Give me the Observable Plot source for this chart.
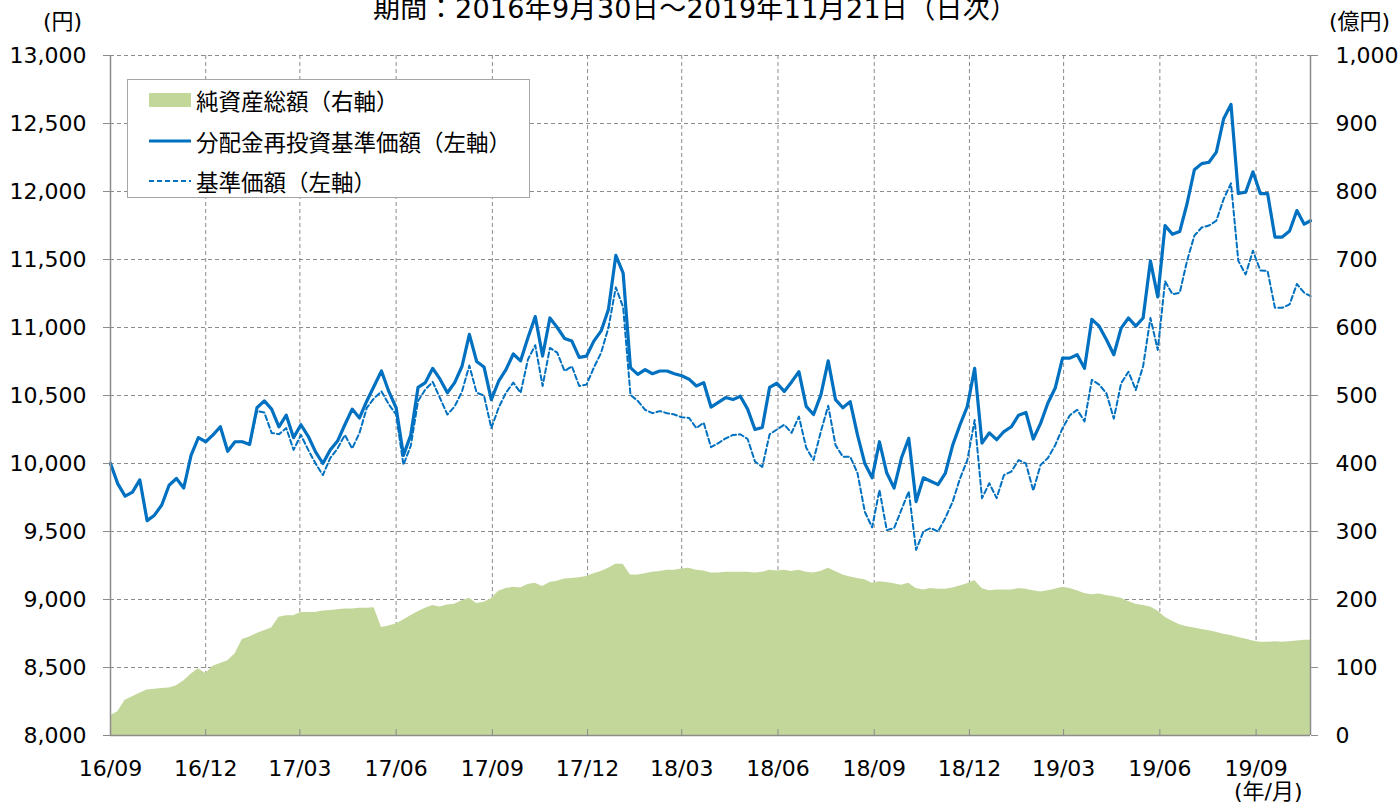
<!DOCTYPE html>
<html><head><meta charset="utf-8">
<script src="https://cdn.jsdelivr.net/npm/d3@7"></script>
<script src="https://cdn.jsdelivr.net/npm/@observablehq/plot@0.6"></script>
<style>
body{margin:0;background:#fff;font-family:"DejaVu Sans","Noto Sans CJK JP",sans-serif;}
#wrap{position:relative;width:1399px;height:804px;overflow:hidden;background:#fff;}
.lbl{position:absolute;color:#000;white-space:nowrap;line-height:1;font-family:"DejaVu Sans","Noto Sans CJK JP",sans-serif;}
#legend{position:absolute;left:127px;top:79px;width:401px;height:117px;border:1px solid #a6a6a6;background:#fff;}
#legend .row{position:absolute;left:0;height:30px;}
#legend svg{position:absolute;left:20px;top:0;}
#legend span{position:absolute;left:68px;top:1px;font-size:22.5px;line-height:1;white-space:nowrap;color:#000;font-family:"Noto Sans CJK JP",sans-serif;}
</style></head><body><div id="wrap"></div>
<script>
// ---- data ----
const startDate = "2016-09-30";
const endDate = "2019-11-21";
const titleText = "期間：2016年9月30日～2019年11月21日（日次）";
const seriesNames = ["純資産総額（右軸）", "分配金再投資基準価額（左軸）", "基準価額（左軸）"];
const tickDates = ["2016-09-30","2016-12-30","2017-03-30","2017-06-30","2017-09-30","2017-12-30",
  "2018-03-30","2018-06-30","2018-09-30","2018-12-30","2019-03-30","2019-06-30","2019-09-30"];
const leftTicks = [8000,8500,9000,9500,10000,10500,11000,11500,12000,12500,13000];
const rightTicks = [0,100,200,300,400,500,600,700,800,900,1000];

// weekly readings (円), last value = 2019-11-21
const navReinvested = [
10000,9850,9760,9790,9880,9580,9620,9695,9840,9890,
9820,10060,10190,10160,10210,10270,10090,10160,10160,10140,
10410,10460,10400,10270,10355,10190,10285,10200,10085,10000,
10100,10165,10285,10400,10335,10460,10570,10680,10530,10410,
10060,10210,10560,10595,10700,10620,10520,10595,10715,10950,
10750,10710,10470,10605,10690,10805,10755,10925,11080,10790,
11070,11000,10920,10900,10780,10790,10900,10975,11135,11530,
11400,10705,10655,10690,10660,10680,10680,10660,10645,10620,
10570,10595,10415,10450,10485,10470,10495,10400,10250,10265,
10560,10590,10530,10600,10675,10420,10360,10505,10755,10470,
10410,10455,10210,10000,9895,10160,9930,9820,10040,10185,
9720,9895,9870,9845,9930,10135,10285,10420,10700,10150,
10225,10175,10235,10270,10355,10375,10180,10295,10445,10555,
10775,10775,10800,10700,11060,11010,10910,10800,10995,11070,
11010,11070,11490,11225,11750,11685,11705,11910,12160,12205,
12215,12290,12535,12640,11985,11995,12145,11985,11985,11665,
11665,11710,11860,11760,11785];
const nav = [
10000,9850,9760,9790,9880,9580,9620,9695,9840,9890,
9820,10060,10190,10160,10210,10270,10090,10160,10160,10140,
10385,10375,10225,10215,10260,10100,10210,10100,10000,9915,
10040,10110,10210,10110,10225,10410,10480,10530,10435,10360,
9990,10130,10460,10545,10600,10480,10360,10420,10530,10720,
10520,10500,10260,10410,10520,10595,10520,10765,10870,10570,
10850,10815,10680,10715,10570,10580,10705,10815,11000,11295,
11150,10505,10460,10395,10370,10385,10370,10360,10340,10335,
10260,10300,10120,10150,10185,10210,10215,10180,10015,9975,
10215,10250,10285,10225,10345,10115,10025,10235,10425,10135,
10050,10050,9930,9645,9530,9805,9510,9525,9660,9795,
9365,9500,9525,9500,9600,9720,9890,10025,10320,9745,
9855,9745,9915,9940,10025,10000,9800,9990,10040,10135,
10260,10355,10395,10310,10615,10580,10515,10330,10590,10675,
10540,10715,11070,10835,11340,11245,11255,11490,11675,11735,
11750,11785,11945,12060,11490,11390,11565,11420,11415,11145,
11145,11170,11320,11255,11230];
// 億円
const netAssets = [
29,35,52,57,62,67,68,69,70,73,
80,90,98,91,102,106,110,120,141,145,
150,154,158,174,176,176,181,181,181,183,
184,185,186,186,187,187,188,159,161,164,
170,176,182,187,191,189,192,193,198,202,
194,196,201,212,216,218,217,222,224,219,
225,227,230,231,232,234,238,241,246,252,
252,236,236,238,240,241,243,243,245,246,
243,242,239,239,240,240,240,240,239,240,
243,242,243,241,243,240,239,241,246,241,
236,233,231,229,224,226,225,223,221,224,
216,214,216,215,215,217,220,223,228,216,
213,214,214,214,216,215,213,211,213,215,
218,216,213,209,207,208,206,204,202,197,
193,191,189,183,174,168,163,160,158,156,
154,152,149,147,144,142,139,137,137,138,
137,138,139,140,140];

// ---- build table ----
const parse = d3.utcParse("%Y-%m-%d");
const t0 = parse(startDate), t1 = parse(endDate);
const data = navReinvested.map((v, i) => ({
  date: i === navReinvested.length - 1 ? t1 : d3.utcDay.offset(t0, 7 * i),
  navR: v, nav: nav[i], assets: netAssets[i]
}));
const ticksX = tickDates.map(parse);
// right axis (0-1000) is mapped onto the left scale (8000-13000)
const toLeft = v => 8000 + v * 5;
const rightAsLeft = rightTicks.map(toLeft);

const FONT = '"DejaVu Sans","Noto Sans CJK JP",sans-serif';
const grid = {stroke:"#8c8c8c", strokeOpacity:1, strokeWidth:1, strokeDasharray:"4,3"};
const chart = Plot.plot({
  width:1399, height:804,
  marginLeft:110, marginRight:89, marginTop:55, marginBottom:69,
  style:{fontFamily:FONT, fontSize:"22px", color:"#000", background:"transparent", overflow:"visible"},
  x:{type:"utc", domain:[t0, t1]},
  y:{domain:[8000, 13000]},
  marks:[
    Plot.gridY(leftTicks, grid),
    Plot.gridX(ticksX, grid),
    Plot.areaY(data, {x:"date", y1:8000, y2:d => toLeft(d.assets), fill:"#C4D79B", curve:"linear"}),
    Plot.line(data, {x:"date", y:"nav", stroke:"#0070C0", strokeWidth:2, strokeDasharray:"5,3"}),
    Plot.line(data, {x:"date", y:"navR", stroke:"#0070C0", strokeWidth:3.2, strokeLinejoin:"round"}),
    Plot.ruleX([t0, t1], {stroke:"#8c8c8c", strokeWidth:1.5}),
    Plot.ruleY([8000], {stroke:"#8c8c8c", strokeWidth:1.5}),
    Plot.axisY(leftTicks, {anchor:"left", tickSize:7, tickPadding:17, stroke:"#8c8c8c", tickFormat:d3.format(","), fontSize:22, label:null}),
    Plot.axisY(rightAsLeft, {anchor:"right", tickSize:7, tickPadding:18, stroke:"#8c8c8c", tickFormat:(d, i) => d3.format(",")(rightTicks[i]), fontSize:22, label:null}),
    Plot.axisX(ticksX, {anchor:"bottom", tickSize:-6, stroke:"#8c8c8c", tickFormat:() => "", label:null}),
    Plot.axisX(ticksX, {anchor:"bottom", tickSize:0, tickPadding:25, tickFormat:d3.utcFormat("%y/%m"), fontSize:22, label:null})
  ]
});
const wrap = document.getElementById("wrap");
chart.style.position = "absolute"; chart.style.left = "0"; chart.style.top = "0";
wrap.appendChild(chart);

function label(text, css){
  const d = document.createElement("div");
  d.className = "lbl"; d.textContent = text;
  Object.assign(d.style, css);
  wrap.appendChild(d);
  return d;
}
label(titleText, {left:"373px", top:"-5px", fontSize:"27px", letterSpacing:"0.3px"});
label("(円)", {left:"43px", top:"11px", fontSize:"22px"});
label("(億円)", {left:"1329px", top:"11px", fontSize:"22px"});
label("(年/月)", {left:"1234px", top:"781px", fontSize:"22px"});

// legend
const lg = document.createElement("div"); lg.id = "legend"; wrap.appendChild(lg);
const swatches = [
  '<svg width="44" height="26"><rect x="1" y="5" width="42" height="14" fill="#C4D79B"/></svg>',
  '<svg width="44" height="26"><line x1="1" x2="43" y1="12" y2="12" stroke="#0070C0" stroke-width="3.2"/></svg>',
  '<svg width="44" height="26"><line x1="1" x2="43" y1="12" y2="12" stroke="#0070C0" stroke-width="2" stroke-dasharray="5,3"/></svg>'
];
const rowTops = [8, 49, 89];
seriesNames.forEach((name, i) => {
  const r = document.createElement("div"); r.className = "row"; r.style.top = rowTops[i] + "px";
  r.innerHTML = swatches[i] + "<span></span>";
  r.querySelector("span").textContent = name;
  lg.appendChild(r);
});
</script></body></html>
